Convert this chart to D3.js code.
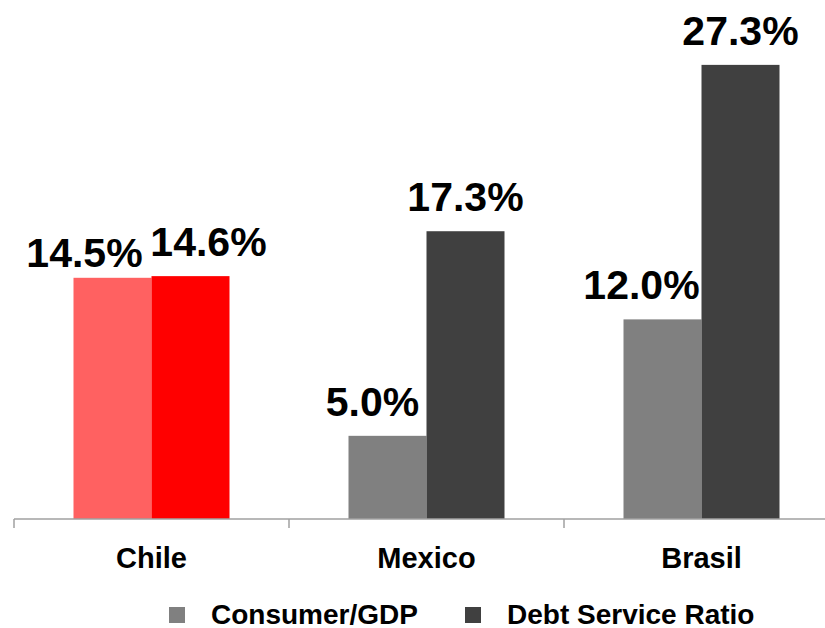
<!DOCTYPE html>
<html>
<head>
<meta charset="utf-8">
<script src="https://cdn.jsdelivr.net/npm/d3@7"></script>
<style>
  html, body { margin: 0; padding: 0; background: #fff; }
  svg { display: block; font-family: "Liberation Sans", Arial, sans-serif; }
</style>
</head>
<body>
<svg id="chart" width="825" height="628"></svg>
<script>
// ---- data ----
const categories = ["Chile", "Mexico", "Brasil"];
const seriesNames = ["Consumer/GDP", "Debt Service Ratio"];
const consumerGDP = [14.5, 5.0, 12.0];
const debtServiceRatio = [14.6, 17.3, 27.3];
const valueLabels = [["14.5%", "14.6%"], ["5.0%", "17.3%"], ["12.0%", "27.3%"]];

// ---- styling (kept apart from data) ----
const seriesColors = ["#808080", "#404040"];
const highlightColors = ["#FF6161", "#FF0000"]; // Chile highlighted
const labelNudge = [[[-28, 9], [18, 0]], [[-15, 0], [0, 0]], [[-21, 0], [0, 0]]];

const svg = d3.select("#chart");
const baseY = 519;

const x = d3.scaleBand().domain(categories).range([14, 839]).paddingInner(0).paddingOuter(0);
const barW = 78;
const po = (x.bandwidth() / barW - 2) / 2;
const x1 = d3.scaleBand().domain(seriesNames).range([0, x.bandwidth()]).paddingInner(0).paddingOuter(po);
const y = d3.scaleLinear().domain([0, 31.2]).range([baseY, 0]);

const rows = categories.map((c, i) => ({
  cat: c, i,
  vals: [consumerGDP[i], debtServiceRatio[i]]
}));

const g = svg.selectAll("g.cat").data(rows).join("g")
  .attr("class", "cat")
  .attr("transform", d => `translate(${x(d.cat)},0)`);

g.selectAll("rect").data(d => d.vals.map((v, s) => ({ v, s, ci: d.i })))
  .join("rect")
  .attr("x", d => x1(seriesNames[d.s]))
  .attr("width", x1.bandwidth())
  .attr("y", d => y(d.v))
  .attr("height", d => baseY - y(d.v))
  .attr("fill", d => d.ci === 0 ? highlightColors[d.s] : seriesColors[d.s]);

g.selectAll("text.val").data(d => d.vals.map((v, s) => ({ v, s, ci: d.i })))
  .join("text")
  .attr("class", "val")
  .attr("x", d => x1(seriesNames[d.s]) + x1.bandwidth() / 2 + labelNudge[d.ci][d.s][0])
  .attr("y", d => y(d.v) - 20 + labelNudge[d.ci][d.s][1])
  .attr("text-anchor", "middle")
  .attr("font-size", 41)
  .attr("font-weight", "bold")
  .attr("fill", "#000")
  .text(d => valueLabels[d.ci][d.s]);

// ---- axis ----
const axisG = svg.append("g").attr("transform", `translate(0,${baseY})`);
axisG.append("line")
  .attr("x1", x.range()[0]).attr("x2", x.range()[1])
  .attr("y1", 0).attr("y2", 0)
  .attr("stroke", "#a0a0a0").attr("stroke-width", 1.5);
const boundaries = categories.map(c => x(c)).concat([x.range()[1]]);
axisG.selectAll("line.tick").data(boundaries).join("line")
  .attr("class", "tick")
  .attr("x1", d => d).attr("x2", d => d)
  .attr("y1", 0).attr("y2", 9)
  .attr("stroke", "#a0a0a0").attr("stroke-width", 1.5);

svg.selectAll("text.cat").data(categories).join("text")
  .attr("class", "cat")
  .attr("x", d => x(d) + x.bandwidth() / 2)
  .attr("y", 568)
  .attr("text-anchor", "middle")
  .attr("font-size", 29)
  .attr("font-weight", "bold")
  .attr("fill", "#000")
  .text(d => d);

// ---- legend ----
const legendX = [169, 465];
const lg = svg.selectAll("g.legend").data(seriesNames).join("g")
  .attr("class", "legend")
  .attr("transform", (d, i) => `translate(${legendX[i]},607)`);
lg.append("rect").attr("width", 16).attr("height", 16)
  .attr("fill", (d, i) => seriesColors[i]);
lg.append("text").attr("x", 42).attr("y", 17)
  .attr("font-size", 28).attr("font-weight", "bold").attr("fill", "#000")
  .text(d => d);
</script>
</body>
</html>
